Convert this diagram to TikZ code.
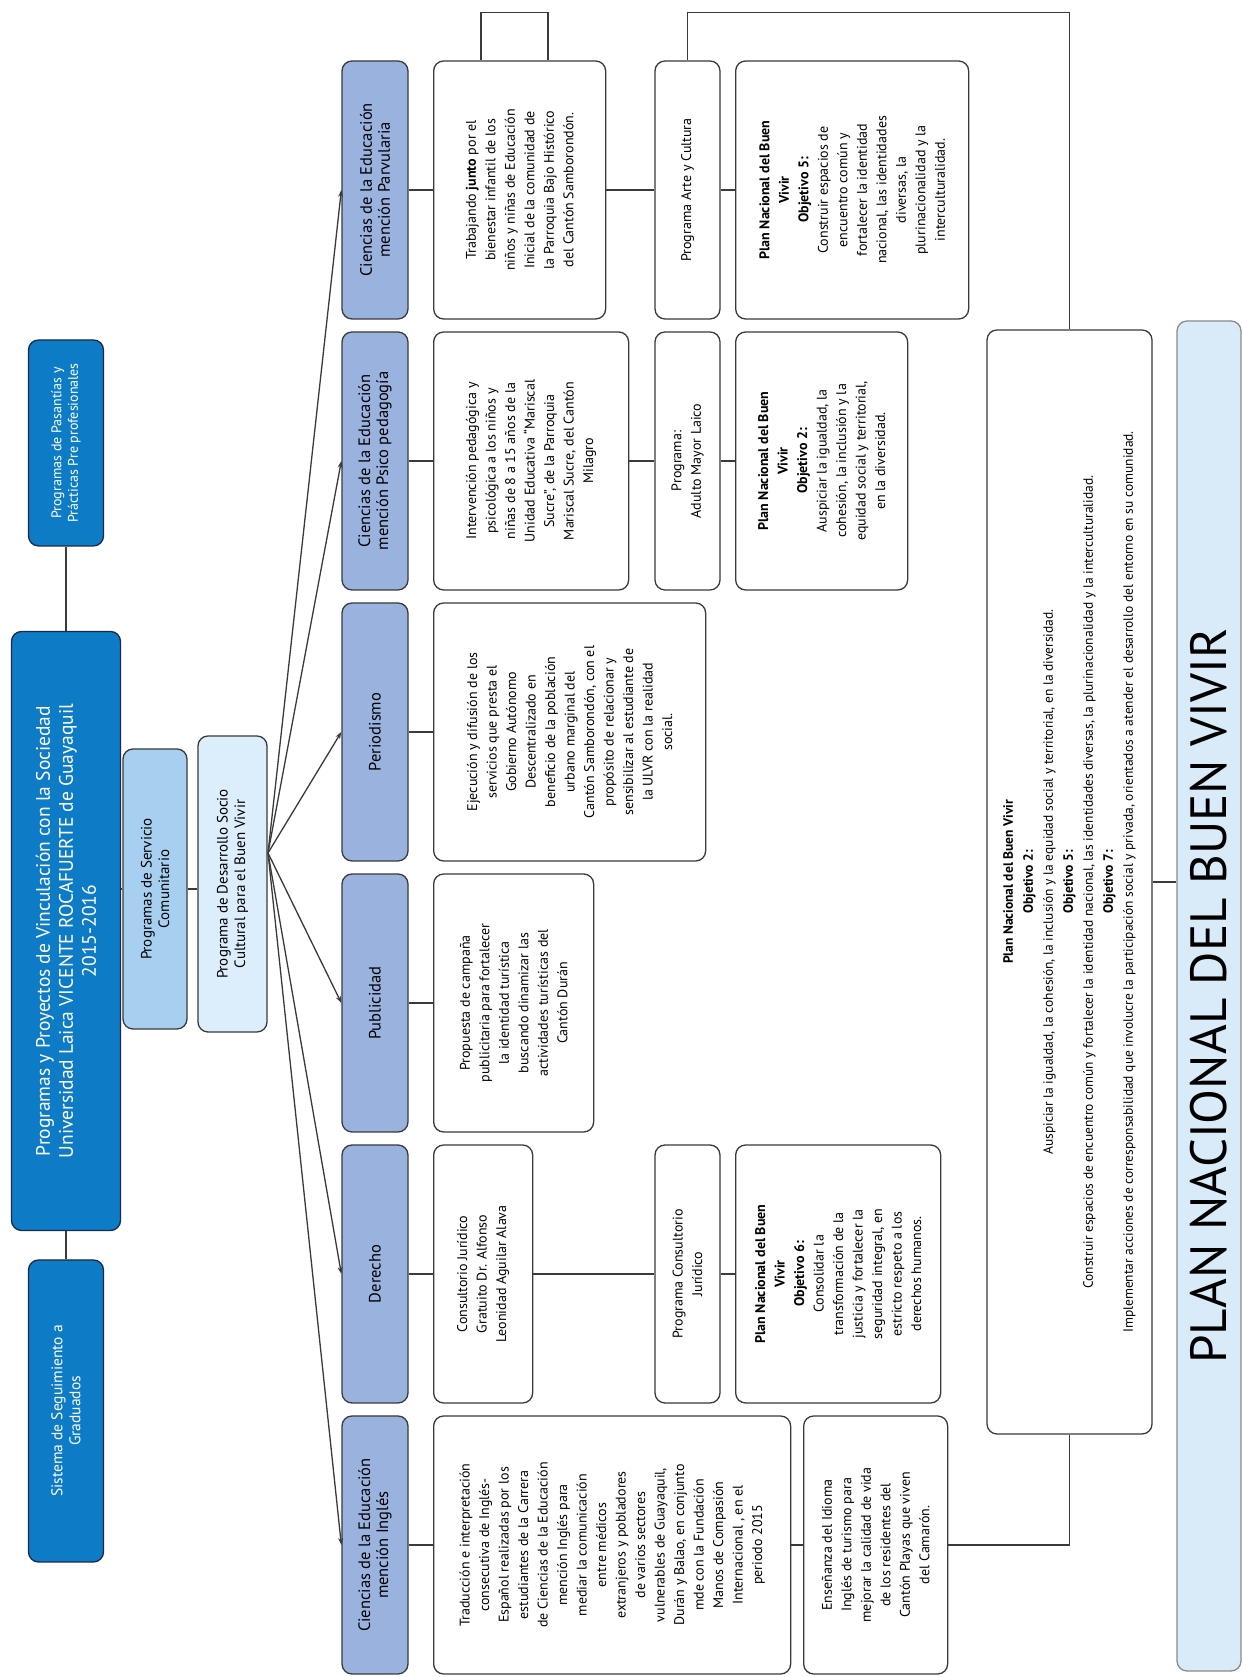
\documentclass[tikz,border=0pt]{standalone}
\usepackage{fontspec}
\setmainfont{PT Sans}
\usetikzlibrary{arrows.meta, positioning, calc}
\definecolor{ulvrblue}{HTML}{0E7BC6}
\definecolor{ulvrnavy}{HTML}{1B2B45}
\definecolor{servblue}{HTML}{A6CFF0}
\definecolor{desablue}{HTML}{DCEDFB}
\definecolor{carrblue}{HTML}{9AB3DE}
\definecolor{planblue}{HTML}{D9EAF8}
\definecolor{planedge}{HTML}{8A8A8A}
\definecolor{linegray}{HTML}{3A3A3A}
\newcommand\titlefont{\fontsize{19.5}{23}\selectfont}
\newcommand\smallfont{\fontsize{14}{16.5}\selectfont}
\newcommand\midfont{\fontsize{15}{17.5}\selectfont}
\newcommand\gradfont{\fontsize{15.5}{18}\selectfont}
\newcommand\headfont{\fontsize{16.5}{18}\selectfont}
\newcommand\boxfont{\fontsize{14}{19.5}\selectfont}
\newcommand\bigboxfont{\fontsize{13.5}{20}\selectfont}
\newcommand\planfont{\fontsize{51}{55}\selectfont}

\begin{document}
\begin{tikzpicture}[x=1pt, y=1pt, font=\boxfont,
    base/.style={draw=linegray, line width=1.3pt, rounded corners=10pt, align=center, inner sep=3pt},
    ulvr/.style={base, draw=ulvrnavy, fill=ulvrblue, text=white, font=\smallfont},
    serv/.style={base, fill=servblue, font=\midfont},
    desa/.style={base, fill=desablue, font=\midfont},
    carrera/.style={base, fill=carrblue, minimum width=258, minimum height=66, font=\headfont},
    txt/.style={base, fill=white, minimum width=258, anchor=north},
    prog/.style={base, fill=white, minimum width=258, minimum height=65},
    plan/.style={base, draw=planedge, fill=planblue, font=\planfont},
    wire/.style={draw=linegray, line width=1.3pt}]
  \fill[white] (0,0) rectangle (1242,1677);
  \useasboundingbox (0,0) rectangle (1242,1677);
  \begin{scope}[rotate=90, transform shape]
    % cabecera
    \node[ulvr, minimum width=206, minimum height=75] (pasantias) at (1234,-66) {Programas de Pasantías y\\Prácticas Pre profesionales};
    \node[ulvr, minimum width=599, minimum height=109, font=\titlefont] (title) at (746,-66) {Programas y Proyectos de Vinculación con la Sociedad\\Universidad Laica VICENTE ROCAFUERTE de Guayaquil\\2015-2016};
    \node[ulvr, minimum width=302, minimum height=75, font=\gradfont] (sistema) at (266,-66) {Sistema de Seguimiento a\\Graduados};
    \node[serv, minimum width=280, minimum height=64] (servicio) at (788,-155) {Programas de Servicio\\Comunitario};
    \node[desa, minimum width=296, minimum height=69] (desarrollo) at (793,-232.5) {Programa de Desarrollo Socio\\Cultural para el Buen Vivir};
    \coordinate (fan) at (824,-268);
    % carreras
    \node[carrera] (h1) at (132,-375) {Ciencias de la Educación\\mención Inglés};
    \node[carrera] (h2) at (403,-375) {Derecho};
    \node[carrera] (h3) at (674,-375) {Publicidad};
    \node[carrera] (h4) at (945,-375) {Periodismo};
    \node[carrera] (h5) at (1216,-375) {Ciencias de la Educación\\mención Psico pedagogía};
    \node[carrera] (h6) at (1487,-375) {Ciencias de la Educación\\mención Parvularia};
    % proyectos
    \node[txt, minimum height=357] (t1) at (132,-433) {Traducción e interpretación\\consecutiva de Inglés-\\Español realizadas por los\\estudiantes de la Carrera\\de Ciencias de la Educación\\mención Inglés para\\mediar la comunicación\\entre médicos\\extranjeros y pobladores\\de varios sectores\\vulnerables de Guayaquil,\\Durán y Balao, en conjunto\\mde con la Fundación\\Manos de Compasión\\Internacional , en el\\periodo 2015};
    \node[txt, minimum height=99] (t2) at (403,-433) {Consultorio Jurídico\\Gratuito Dr. Alfonso\\Leonidad Aguilar Alava};
    \node[txt, minimum height=160] (t3) at (674,-433) {Propuesta de campaña\\publicitaria para fortalecer\\la identidad turística\\buscando dinamizar las\\actividades turísticas del\\Cantón Durán};
    \node[txt, minimum height=272] (t4) at (945,-433) {Ejecución y difusión de los\\servicios que presta el\\Gobierno Autónomo\\Descentralizado en\\beneficio de la población\\urbano marginal del\\Cantón Samborondón, con el\\propósito de relacionar y\\sensibilizar al estudiante de\\la ULVR con la realidad\\social.};
    \node[txt, minimum height=195] (t5) at (1216,-433) {Intervención pedagógica y\\psicológica a los niños y\\niñas de 8 a 15 años de la\\Unidad Educativa ``Mariscal\\Sucre'', de la Parroquia\\Mariscal Sucre, del Cantón\\Milagro};
    \node[txt, minimum height=172] (t6) at (1487,-433) {Trabajando \textbf{junto} por el\\bienestar infantil de los\\niños y niñas de Educación\\Inicial de la comunidad de\\la Parroquia Bajo Histórico\\del Cantón Samborondón.};
    % programas
    \node[prog] (p2) at (403,-687.5) {Programa Consultorio\\Jurídico};
    \node[prog] (p5) at (1216,-687.5) {Programa:\\Adulto Mayor Laico};
    \node[prog] (p6) at (1487,-687.5) {Programa Arte y Cultura};
    % objetivos PNBV
    \node[txt, minimum height=144] (e1) at (132,-803) {Enseñanza del Idioma\\Inglés de turismo para\\mejorar la calidad de vida\\de los residentes del\\Cantón Playas que viven\\del Camarón.};
    \node[txt, minimum height=205] (n2) at (403,-735) {\textbf{Plan Nacional del Buen}\\\textbf{Vivir}\\\textbf{Objetivo 6:}\\Consolidar la\\transformación de la\\justicia y fortalecer la\\seguridad integral, en\\estricto respeto a los\\derechos humanos.};
    \node[txt, minimum height=172] (n5) at (1216,-735) {\textbf{Plan Nacional del Buen}\\\textbf{Vivir}\\\textbf{Objetivo 2:}\\Auspiciar la igualdad, la\\cohesión, la inclusión y la\\equidad social y territorial,\\en la diversidad.};
    \node[txt, minimum height=233] (n6) at (1487,-735) {\textbf{Plan Nacional del Buen}\\\textbf{Vivir}\\\textbf{Objetivo 5:}\\Construir espacios de\\encuentro común y\\fortalecer la identidad\\nacional, las identidades\\diversas, la\\plurinacionalidad y la\\interculturalidad.};
    \node[base, fill=white, minimum width=1104, minimum height=165, font=\bigboxfont] (big) at (795,-1069.5) {\textbf{Plan Nacional del Buen Vivir}\\\textbf{Objetivo 2:}\\Auspiciar la igualdad, la cohesión, la inclusión y la equidad social y territorial, en la diversidad.\\\textbf{Objetivo 5:}\\Construir espacios de encuentro común y fortalecer la identidad nacional, las identidades diversas, la plurinacionalidad y la interculturalidad.\\\textbf{Objetivo 7:}\\Implementar acciones de corresponsabilidad que involucre la participación social y privada, orientados a atender el desarrollo del entorno en su comunidad.};
    \node[plan, minimum width=1350, minimum height=64] (plan) at (681,-1209) {PLAN NACIONAL DEL BUEN VIVIR};
    % conectores
    \draw[wire] (sistema) -- (title) -- (pasantias);
    \draw[wire] (servicio.north) -- (servicio.north |- title.south);
    \draw[wire] (servicio.south) -- (servicio.south |- desarrollo.north);
    \foreach \c in {h1,h2,h3,h4,h5,h6}
      \draw[wire, -{Stealth[length=7pt, width=5pt]}] (fan) -- (\c.north);
    \foreach \i in {1,...,6}
      \draw[wire] (h\i) -- (t\i);
    \draw[wire] (t1) -- (e1);
    \draw[wire] (t2) -- (p2) -- (n2);
    \draw[wire] (t5) -- (p5) -- (n5);
    \draw[wire] (t6) -- (p6) -- (n6);
    \draw[wire] ($(t6.north east)+(0,-48)$) -- ++(48,0) -- ++(0,-67) -- ($(t6.north east)+(0,-115)$);
    \draw[wire] (p6.east) -- ++(48,0) |- (big.east);
    \draw[wire] (big.west) -| (e1.south);
    \draw[wire] (big.south) -- (big.south |- plan.north);
  \end{scope}
\end{tikzpicture}
\end{document}
